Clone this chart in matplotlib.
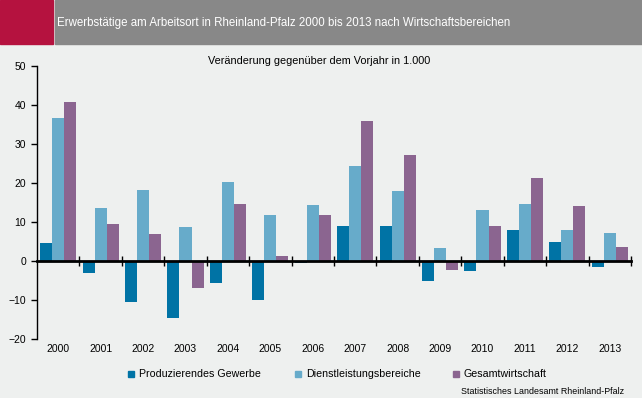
import matplotlib
matplotlib.use("Agg")
import matplotlib.pyplot as plt
from matplotlib.lines import Line2D
from matplotlib.patches import Rectangle
import numpy as np

plt.rcParams['font.family'] = ['Liberation Sans', 'DejaVu Sans']

years = ['2000', '2001', '2002', '2003', '2004', '2005', '2006',
         '2007', '2008', '2009', '2010', '2011', '2012', '2013']
produzierend = [4.5, -3.1, -10.6, -14.7, -5.7, -10.1, -0.5,
                8.9, 8.9, -5.1, -2.6, 7.9, 4.8, -1.5]
dienstleistung = [36.6, 13.5, 18.1, 8.6, 20.2, 11.7, 14.3,
                  24.3, 17.9, 3.3, 13.0, 14.6, 7.9, 7.1]
gesamt = [40.7, 9.4, 6.9, -7.0, 14.6, 1.2, 11.7,
          35.9, 27.1, -2.4, 8.9, 21.2, 14.0, 3.5]

series = [('Produzierendes Gewerbe', produzierend, '#0073a5'),
          ('Dienstleistungsbereiche', dienstleistung, '#67abca'),
          ('Gesamtwirtschaft', gesamt, '#8b6590')]

bg = '#eef0ef'
W, H = 642, 398
fig = plt.figure(figsize=(6.42, 3.98), dpi=100, facecolor=bg)

# header band
fig.patches.append(Rectangle((0, 1 - 44 / H), 53 / W, 44 / H,
                             transform=fig.transFigure, color='#b5123f', zorder=0))
fig.patches.append(Rectangle((55 / W, 1 - 44 / H), 1, 44 / H,
                             transform=fig.transFigure, color='#888888', zorder=0))
fig.text(57 / W, 1 - 23 / H,
         'Erwerbstätige am Arbeitsort in Rheinland-Pfalz 2000 bis 2013 nach Wirtschaftsbereichen',
         color='white', fontsize=8.3, va='center', ha='left')

ax = fig.add_axes([37 / W, 59 / H, 594 / W, 273 / H])
ax.set_facecolor(bg)

x = np.arange(len(years))
w = 0.283
for i, (name, vals, col) in enumerate(series):
    ax.bar(x + (i - 1) * w, vals, width=w, color=col, zorder=2)

ax.set_xlim(-0.5, len(years) - 0.5)
ax.set_ylim(-20, 50)
ax.set_yticks(range(-20, 51, 10))
ax.tick_params(axis='y', direction='out', length=4, width=1, labelsize=7.5, pad=4)

for s in ['top', 'right']:
    ax.spines[s].set_visible(False)
ax.spines['left'].set_linewidth(1)
ax.spines['bottom'].set_position(('data', 0))
ax.spines['bottom'].set_linewidth(2)
ax.spines['bottom'].set_zorder(3)

ax.set_xticks(x)
ax.set_xticklabels([])
ax.tick_params(axis='x', which='major', length=0)
ax.set_xticks(np.arange(0.5, len(years), 1), minor=True)
ax.tick_params(axis='x', which='minor', direction='inout', length=7, width=1)

for xi, lab in zip(x, years):
    ax.text(xi, -0.035, lab, transform=ax.get_xaxis_transform(),
            ha='center', va='center', fontsize=7.5)

fig.text(319 / W, 1 - 61 / H, 'Veränderung gegenüber dem Vorjahr in 1.000',
         ha='center', va='center', fontsize=7.8)

# legend
leg_x = [131, 298, 456]
for (name, _, col), lx in zip(series, leg_x):
    fig.add_artist(Line2D([lx / W], [1 - 374 / H], marker='s', markersize=4.5,
                          color=col, linestyle='', transform=fig.transFigure))
    fig.text((lx + 8) / W, 1 - 374 / H, name, ha='left', va='center', fontsize=7.7)

fig.text(624 / W, 1 - 392 / H, 'Statistisches Landesamt Rheinland-Pfalz',
         ha='right', va='center', fontsize=6.4)

fig.savefig('out.png', dpi=100, facecolor=bg)
